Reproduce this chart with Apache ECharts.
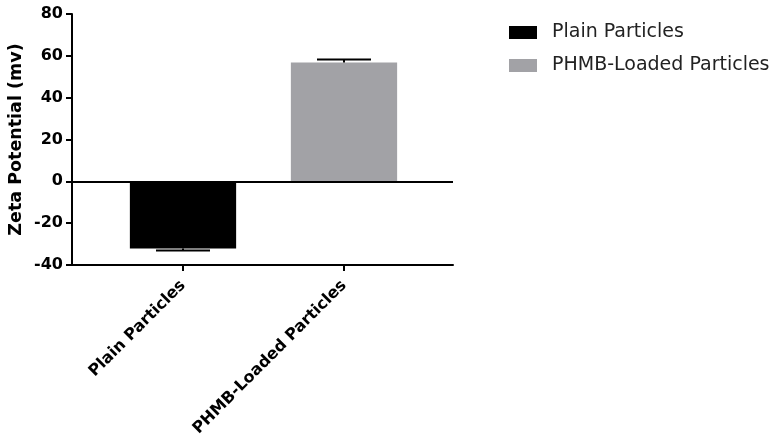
<!DOCTYPE html>
<html>
<head>
<meta charset="utf-8">
<script src="https://cdn.jsdelivr.net/npm/echarts@6/dist/echarts.min.js"></script>
<style>
  html, body { margin: 0; padding: 0; background: #fff; }
  #chart { width: 771px; height: 442px; }
</style>
</head>
<body>
<div id="chart"></div>
<script>
// Zeta potential of the two particle formulations (mean and error, mV)
const categories = ['Plain Particles', 'PHMB-Loaded Particles'];
const meanValues = [-32.1, 56.8];
const errorValues = [1.0, 1.4];
const barColors = ['#000000', '#a2a2a6'];

// Y axis settings
const yMin = -40;
const yMax = 80;
const yInterval = 20;

const fontFamily = '"DejaVu Sans", "Liberation Sans", Arial, sans-serif';

const chart = echarts.init(document.getElementById('chart'), null, { renderer: 'canvas' });

// one bar series per formulation so each has its own legend entry
const barSeries = categories.map((name, i) => ({
  name: name,
  type: 'bar',
  xAxisIndex: 1,
  yAxisIndex: 1,
  barWidth: '66%',
  barGap: '-100%',
  itemStyle: { color: barColors[i] },
  data: categories.map((c, j) => (j === i ? meanValues[i] : '-')),
  z: 2
}));

// one-sided error bars pointing away from zero
const errorSeries = {
  type: 'custom',
  xAxisIndex: 1,
  yAxisIndex: 1,
  silent: true,
  z: 5,
  data: categories.map((c, i) => [i, meanValues[i], errorValues[i]]),
  renderItem: function (params, api) {
    const x = api.value(0);
    const m = api.value(1);
    const e = api.value(2);
    const tip = m >= 0 ? m + e : m - e;
    const p0 = api.coord([x, m]);
    const p1 = api.coord([x, tip]);
    const half = 27;
    const style = { stroke: '#000', lineWidth: 2 };
    return {
      type: 'group',
      children: [
        { type: 'line', shape: { x1: p0[0], y1: p0[1], x2: p1[0], y2: p1[1] }, style: style },
        { type: 'line', shape: { x1: p1[0] - half, y1: p1[1], x2: p1[0] + half, y2: p1[1] }, style: style }
      ]
    };
  }
};

// frame series carrying the zero line across the full plot width
const zeroLineSeries = {
  type: 'line',
  xAxisIndex: 0,
  yAxisIndex: 0,
  data: [],
  silent: true,
  markLine: {
    silent: true,
    symbol: 'none',
    label: { show: false },
    lineStyle: { color: '#000', width: 2, type: 'solid' },
    data: [{ yAxis: 0 }]
  }
};

const option = {
  backgroundColor: '#ffffff',
  animation: false,
  legend: {
    orient: 'vertical',
    left: 504,
    top: 18,
    itemWidth: 28,
    itemHeight: 13,
    itemGap: 14,
    icon: 'rect',
    selectedMode: false,
    data: categories,
    textStyle: {
      fontFamily: fontFamily,
      fontSize: 19,
      color: '#222',
      padding: [0, 0, 0, 10]
    }
  },
  grid: [
    { left: 72, top: 14, width: 381, height: 251 },
    { left: 102.5, top: 14, width: 322, height: 251 }
  ],
  xAxis: [
    {
      gridIndex: 0,
      type: 'value',
      min: 0,
      max: 1,
      axisLine: { show: true, onZero: false, lineStyle: { color: '#000', width: 2 } },
      axisTick: { show: false },
      axisLabel: { show: false },
      splitLine: { show: false }
    },
    {
      gridIndex: 1,
      type: 'category',
      data: categories,
      axisLine: { show: false, onZero: false },
      axisTick: { show: true, alignWithLabel: true, length: 6, lineStyle: { color: '#000', width: 2 } },
      axisLabel: {
        rotate: 45,
        margin: 18,
        fontFamily: fontFamily,
        fontSize: 16,
        fontWeight: 'bold',
        color: '#000',
        interval: 0
      },
      splitLine: { show: false }
    }
  ],
  yAxis: [
    {
      gridIndex: 0,
      type: 'value',
      min: yMin,
      max: yMax,
      interval: yInterval,
      name: 'Zeta Potential (mv)',
      nameLocation: 'middle',
      nameGap: 47,
      nameTextStyle: {
        fontFamily: fontFamily,
        fontSize: 17.5,
        fontWeight: 'bold',
        color: '#000'
      },
      axisLine: { show: true, lineStyle: { color: '#000', width: 2 } },
      axisTick: { show: true, length: 6, lineStyle: { color: '#000', width: 2 } },
      axisLabel: {
        margin: 9,
        fontFamily: fontFamily,
        fontSize: 16,
        fontWeight: 'bold',
        color: '#000'
      },
      splitLine: { show: false }
    },
    {
      gridIndex: 1,
      type: 'value',
      min: yMin,
      max: yMax,
      interval: yInterval,
      show: false
    }
  ],
  series: [zeroLineSeries].concat(barSeries, [errorSeries])
};

chart.setOption(option);
</script>
</body>
</html>
